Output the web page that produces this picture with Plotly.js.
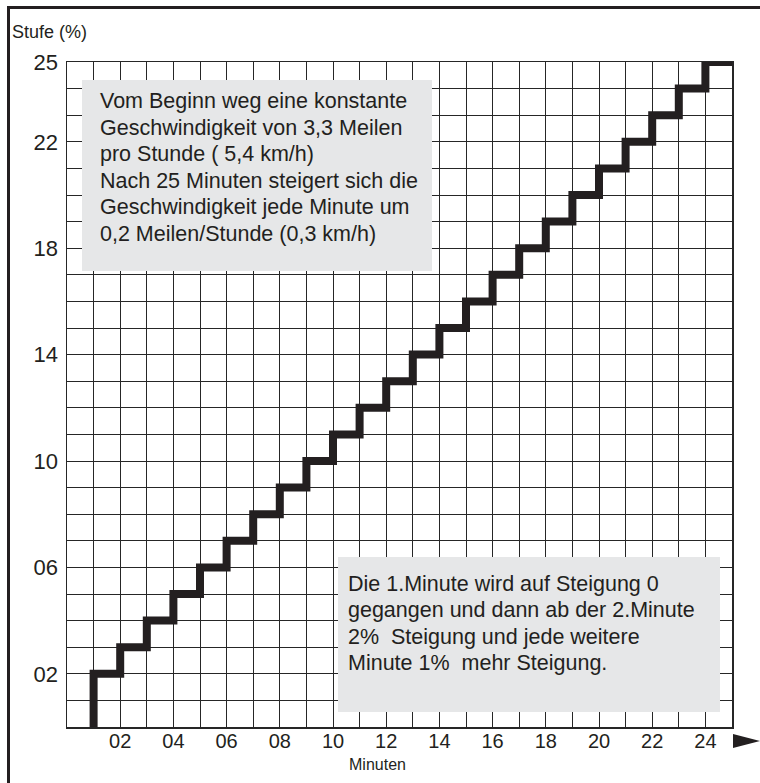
<!DOCTYPE html>
<html>
<head>
<meta charset="utf-8">
<script src="https://cdn.plot.ly/plotly-3.0.1.min.js"></script>
<style>html,body{margin:0;padding:0;background:#fff;}#chart{width:760px;height:783px;}</style>
</head>
<body>
<div id="chart"></div>
<script>
// Step profile: minute (x) vs. Stufe in % (y)
const minutes = [1, 1, 2, 3, 4, 5, 6, 7, 8, 9, 10, 11, 12, 13, 14, 15, 16, 17, 18, 19, 20, 21, 22, 23, 24, 25];
const stufe   = [0, 2, 3, 4, 5, 6, 7, 8, 9, 10, 11, 12, 13, 14, 15, 16, 17, 18, 19, 20, 21, 22, 23, 24, 25, 25];

const xTickVals = [2, 4, 6, 8, 10, 12, 14, 16, 18, 20, 22, 24];
const xTickText = ['02', '04', '06', '08', '10', '12', '14', '16', '18', '20', '22', '24'];
const yTickVals = [2, 6, 10, 14, 18, 22, 25];
const yTickText = ['02', '06', '10', '14', '18', '22', '25'];

const xTitle = 'Minuten';
const yTitle = 'Stufe (%)';
const noteTopLines = [
  'Vom Beginn weg eine konstante',
  'Geschwindigkeit von 3,3 Meilen',
  'pro Stunde ( 5,4 km/h)',
  'Nach 25 Minuten steigert sich die',
  'Geschwindigkeit jede Minute um',
  '0,2 Meilen/Stunde (0,3 km/h)'
];
const noteBottomLines = [
  'Die 1.Minute wird auf Steigung 0',
  'gegangen und dann ab der 2.Minute',
  '2%  Steigung und jede weitere',
  'Minute 1%  mehr Steigung.'
];

const ink = '#231f20';
const gridC = '#262626';
const boxC = '#e6e7e8';
const FONT = 'Liberation Sans, Arial, sans-serif';

// pixel -> paper helpers (plot area: x 67..732, y 62..727)
const L = 67, R = 732, T = 62, B = 727;
const px = v => (v - L) / (R - L);
const py = v => (B - v) / (B - T);

const trace = {
  x: minutes, y: stufe, type: 'scatter', mode: 'lines',
  line: {shape: 'hv', color: ink, width: 8},
  hoverinfo: 'skip'
};

const axisCommon = {
  showgrid: true, gridcolor: gridC, gridwidth: 1,
  showline: true, mirror: true, linecolor: gridC, linewidth: 1.5,
  zeroline: false, ticks: '', fixedrange: true,
  minor: {dtick: 1, tick0: 0, showgrid: true, gridcolor: gridC, gridwidth: 1}
};

const noteAnn = (lines, left, firstY, step) => lines.map((t, i) => ({
  text: t, xref: 'paper', yref: 'paper', x: px(left), y: py(firstY + i * step),
  xanchor: 'left', yanchor: 'middle', align: 'left', showarrow: false,
  font: {size: 21.5, family: FONT, color: ink}
}));

const layout = {
  width: 760, height: 783,
  margin: {l: L, r: 760 - R, t: T, b: 783 - B, pad: 0},
  paper_bgcolor: '#fff', plot_bgcolor: '#fff',
  showlegend: false,
  font: {family: FONT, color: ink},
  xaxis: Object.assign({}, axisCommon, {
    range: [0, 25], tickmode: 'array', tickvals: xTickVals, ticktext: xTickText,
    tickfont: {size: 20, family: FONT, color: ink}, ticklabelstandoff: -5
  }),
  yaxis: Object.assign({}, axisCommon, {
    range: [0, 25], tickmode: 'array', tickvals: yTickVals, ticktext: yTickText,
    tickfont: {size: 22, family: FONT, color: ink}, ticklabelstandoff: 3
  }),
  shapes: [
    // outer frame (left + top)
    {type: 'line', xref: 'paper', yref: 'paper', x0: px(8.5), x1: px(8.5), y0: py(7), y1: py(800), line: {color: ink, width: 3}},
    {type: 'line', xref: 'paper', yref: 'paper', x0: px(7), x1: px(800), y0: py(7.5), y1: py(7.5), line: {color: ink, width: 3}},
    // note boxes
    {type: 'rect', xref: 'paper', yref: 'paper', x0: px(82), x1: px(432), y0: py(271), y1: py(80), fillcolor: boxC, line: {width: 0}, layer: 'above'},
    {type: 'rect', xref: 'paper', yref: 'paper', x0: px(338), x1: px(720), y0: py(712), y1: py(557), fillcolor: boxC, line: {width: 0}, layer: 'above'},
    // axis arrow head
    {type: 'path', xref: 'paper', yref: 'paper',
     path: `M ${px(733)} ${py(734)} L ${px(760)} ${py(741)} L ${px(733)} ${py(748)} Z`,
     fillcolor: ink, line: {width: 0}}
  ],
  annotations: [
    ...noteAnn(noteTopLines, 98, 101, 26.6),
    ...noteAnn(noteBottomLines, 346, 583.5, 26.6),
    {text: yTitle, xref: 'paper', yref: 'paper', x: px(10), y: py(32), xanchor: 'left', yanchor: 'middle', showarrow: false, font: {size: 18, family: FONT, color: ink}},
    {text: xTitle, xref: 'paper', yref: 'paper', x: px(377), y: py(764), xanchor: 'center', yanchor: 'middle', showarrow: false, font: {size: 16, family: FONT, color: ink}}
  ]
};

Plotly.newPlot('chart', [trace], layout, {displayModeBar: false, staticPlot: true});
</script>
</body>
</html>
